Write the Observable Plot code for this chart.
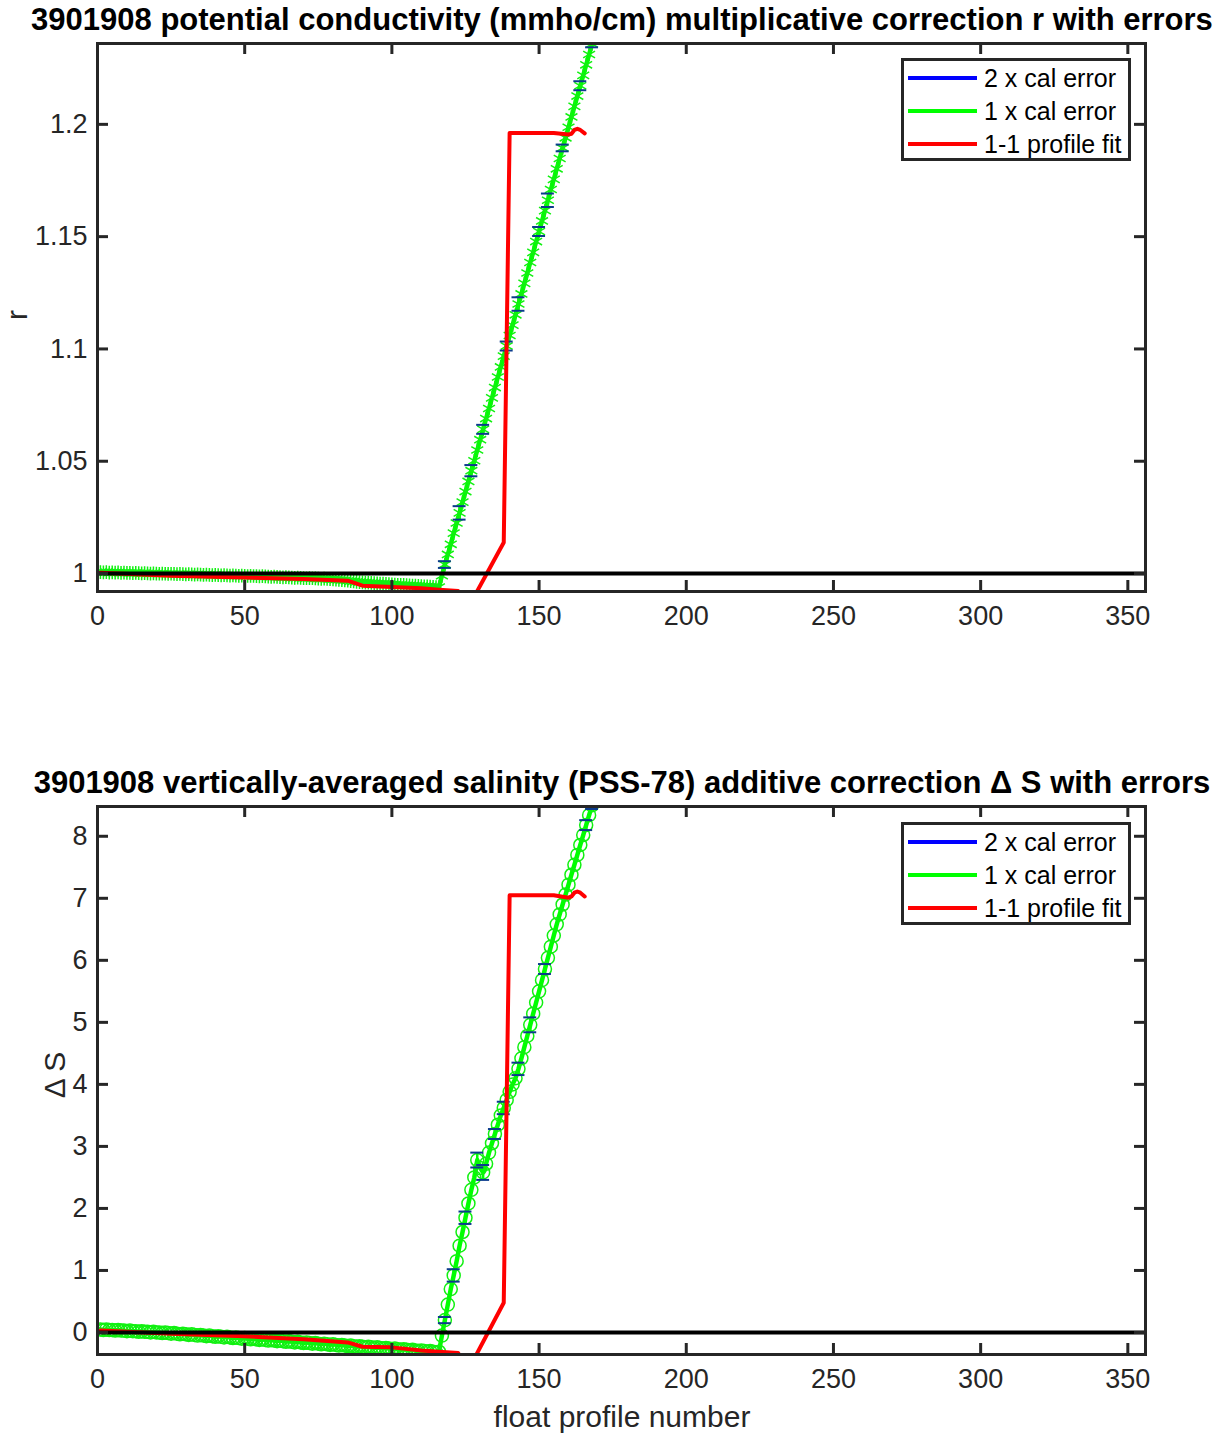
<!DOCTYPE html>
<html><head><meta charset="utf-8">
<script src="https://cdn.jsdelivr.net/npm/d3@7"></script>
<script src="https://cdn.jsdelivr.net/npm/@observablehq/plot@0.6"></script>
<style>
body{margin:0;background:#fff;font-family:"Liberation Sans",Arial,sans-serif;}
#fig{position:relative;width:1222px;height:1433px;overflow:hidden;background:#fff;}
.title{position:absolute;left:0;width:1244px;text-align:center;font-weight:bold;font-size:31px;line-height:34px;color:#000;white-space:nowrap;}
.panel{position:absolute;left:0;}
.ylab{position:absolute;font-size:30px;color:#262626;white-space:nowrap;transform:translate(-50%,-50%) rotate(-90deg);}
.xlab{position:absolute;left:0;width:1244px;text-align:center;font-size:30px;color:#262626;}
.legend{position:absolute;left:901px;width:224px;height:97px;border:3px solid #262626;background:#fff;}
.leg-line{position:absolute;left:4px;width:69px;height:4px;}
.leg-text{position:absolute;left:80px;font-size:25px;line-height:30px;color:#000;white-space:nowrap;}
</style></head><body><div id="fig"></div>
<script>
// ---------------- data ----------------
const xTicks = [0, 50, 100, 150, 200, 250, 300, 350];
const rTicks = [1, 1.05, 1.1, 1.15, 1.2];
const dsTicks = [0, 1, 2, 3, 4, 5, 6, 7, 8];
const legendLabels = ["2 x cal error", "1 x cal error", "1-1 profile fit"];
const legendColors = ["#0000ff", "#00ff00", "#ff0000"];

// float profile numbers 1..168
const profiles = d3.range(1, 169);

// potential conductivity multiplicative correction r (1 x cal error curve), profiles 1..168
const rValues = [
  1.0006, 1.0005, 1.0006, 1.0004, 1.0005, 1.0004, 1.0005, 1.0003, 1.0004, 1.0003,
  1.0003, 1.0002, 1.0003, 1.0002, 1.0001, 1.0002, 1.0001, 1.0000, 1.0001, 1.0000,
  0.9999, 1.0000, 0.9999, 0.9998, 0.9999, 0.9998, 0.9997, 0.9998, 0.9997, 0.9996,
  0.9997, 0.9996, 0.9995, 0.9996, 0.9995, 0.9994, 0.9995, 0.9994, 0.9993, 0.9994,
  0.9993, 0.9992, 0.9993, 0.9992, 0.9991, 0.9992, 0.9991, 0.9990, 0.9991, 0.9990,
  0.9989, 0.9990, 0.9989, 0.9988, 0.9987, 0.9988, 0.9987, 0.9986, 0.9985, 0.9986,
  0.9985, 0.9984, 0.9983, 0.9984, 0.9983, 0.9982, 0.9981, 0.9982, 0.9981, 0.9980,
  0.9979, 0.9980, 0.9979, 0.9978, 0.9977, 0.9976, 0.9977, 0.9976, 0.9975, 0.9974,
  0.9973, 0.9972, 0.9971, 0.9970, 0.9968, 0.9966, 0.9965, 0.9963, 0.9962, 0.9961,
  0.9960, 0.9959, 0.9958, 0.9957, 0.9956, 0.9955, 0.9955, 0.9954, 0.9953, 0.9952,
  0.9951, 0.9950, 0.9950, 0.9949, 0.9948, 0.9947, 0.9946, 0.9946, 0.9945, 0.9944,
  0.9943, 0.9943, 0.9942, 0.9941, 0.9940, 0.9940,
  0.9990, 1.0040, 1.0085, 1.0130, 1.0180, 1.0225, 1.0270, 1.0318, 1.0365, 1.0410,
  1.0458, 1.0502, 1.0550, 1.0596, 1.0642, 1.0690, 1.0735, 1.0782, 1.0828, 1.0875,
  1.0920, 1.0968, 1.1013, 1.1060, 1.1106, 1.1152, 1.1200, 1.1245, 1.1292, 1.1338,
  1.1385, 1.1430, 1.1478, 1.1523, 1.1570, 1.1616, 1.1662, 1.1710, 1.1755, 1.1802,
  1.1848, 1.1895, 1.1940, 1.1987, 1.2033, 1.2080, 1.2126, 1.2172, 1.2218, 1.2265,
  1.2311, 1.2358
];

// vertically-averaged salinity additive correction ΔS, profiles 1..168
const dsValues = [
  0.05, 0.04, 0.05, 0.04, 0.04, 0.03, 0.04, 0.03, 0.03, 0.02,
  0.03, 0.02, 0.02, 0.01, 0.02, 0.01, 0.01, 0.00, 0.01, 0.00,
  0.00, -0.01, 0.00, -0.01, -0.02, -0.01, -0.02, -0.03, -0.02, -0.03,
  -0.04, -0.03, -0.04, -0.05, -0.04, -0.05, -0.06, -0.05, -0.06, -0.07,
  -0.06, -0.07, -0.08, -0.07, -0.08, -0.09, -0.08, -0.09, -0.10, -0.09,
  -0.10, -0.11, -0.10, -0.11, -0.12, -0.11, -0.12, -0.13, -0.12, -0.13,
  -0.14, -0.13, -0.14, -0.15, -0.14, -0.15, -0.16, -0.15, -0.16, -0.17,
  -0.16, -0.17, -0.18, -0.17, -0.18, -0.19, -0.18, -0.19, -0.20, -0.19,
  -0.20, -0.21, -0.20, -0.21, -0.22, -0.21, -0.22, -0.23, -0.22, -0.23,
  -0.24, -0.23, -0.24, -0.25, -0.24, -0.25, -0.26, -0.25, -0.26, -0.27,
  -0.26, -0.27, -0.28, -0.27, -0.28, -0.29, -0.28, -0.29, -0.30, -0.29,
  -0.30, -0.31, -0.30, -0.31, -0.32, -0.31,
  -0.05, 0.20, 0.45, 0.70, 0.92, 1.15, 1.40, 1.62, 1.85, 2.08,
  2.30, 2.50, 2.78, 2.65, 2.58, 2.72, 2.90, 3.05, 3.20, 3.35,
  3.50, 3.62, 3.75, 3.88, 4.00, 4.10, 4.25, 4.42, 4.60, 4.78,
  4.96, 5.14, 5.32, 5.50, 5.68, 5.86, 6.04, 6.22, 6.40, 6.58,
  6.74, 6.90, 7.06, 7.22, 7.38, 7.54, 7.70, 7.86, 8.02, 8.18,
  8.34, 8.50
];

// 1-1 profile fit (red)
const fitProfiles = [1, 25, 50, 70, 85, 90, 100, 110, 116, 122.5, 126, 138, 140, 155, 160, 161, 162, 163, 164, 165.5];
const fitR  = [1.0003, 0.9990, 0.9982, 0.9976, 0.9968, 0.9946, 0.9940, 0.9934, 0.9928, 0.9922, 0.9850, 1.0138, 1.1962, 1.1962, 1.1955, 1.1958, 1.1975, 1.1980, 1.1975, 1.1960];
const fitDS = [0.03, -0.02, -0.06, -0.11, -0.16, -0.23, -0.24, -0.29, -0.31, -0.33, -0.60, 0.48, 7.05, 7.05, 7.01, 7.03, 7.09, 7.11, 7.09, 7.03];

// 2 x cal error (blue error bars), only where they show
const errRProfiles = [118, 123, 127, 131, 139, 143, 150, 153, 158, 164, 168];
const errR2 = [0.0015, 0.003, 0.0025, 0.002, 0.002, 0.003, 0.002, 0.003, 0.0015, 0.002, 0.0015];
const errDSProfiles = [118, 121, 125, 129, 131, 135, 138, 143, 147, 152, 166, 168];
const errDS2 = [0.05, 0.10, 0.10, 0.12, 0.12, 0.08, 0.10, 0.10, 0.12, 0.08, 0.08, 0.06];

// ---------------- drawing ----------------
const fig = document.getElementById("fig");
const FONT = '"Liberation Sans", Arial, sans-serif';
const AX = "#262626";

function panel({values, yDomain, yTicks, symbol, r, fitV, errP, errV, base, height, marginBottom}) {
  const pts = profiles.map((p, i) => ({x: p, y: values[i]}));
  const fit = fitProfiles.map((p, i) => ({x: p, y: fitV[i]}));
  const err = errP.map((p, i) => ({x: p, y: values[profiles.indexOf(p)], e: errV[i]}));
  const caps = err.flatMap(d => [{x: d.x, y: d.y + d.e}, {x: d.x, y: d.y - d.e}]);
  const plotH = height - 43 - marginBottom;
  const plotW = 1222 - 97 - 77;
  return Plot.plot({
    width: 1222, height,
    marginTop: 43, marginLeft: 97, marginRight: 77, marginBottom,
    x: {domain: [0, 356]},
    y: {domain: yDomain},
    style: {fontFamily: FONT, fontSize: "27px", color: AX, background: "transparent", overflow: "visible"},
    marks: [
      Plot.ruleX(err, {x: "x", y1: d => d.y - d.e, y2: d => d.y + d.e, stroke: "#00ff00", strokeWidth: 2.5, clip: true}),
      Plot.line(pts, {x: "x", y: "y", stroke: "#00ff00", strokeWidth: 4.5, clip: true}),
      Plot.dot(pts, {x: "x", y: "y", symbol, r, stroke: "#11f011", strokeWidth: 1.5, fill: "none", clip: true}),
      Plot.ruleY(caps, {y: "y", x1: d => d.x - 2.2, x2: d => d.x + 2.2, stroke: "#0b3b8c", strokeWidth: 2, clip: true}),
      Plot.line(fit, {x: "x", y: "y", stroke: "#ff0000", strokeWidth: 4, clip: true}),
      Plot.ruleY([base], {stroke: "#000", strokeWidth: 4}),
      Plot.ruleX(xTicks, {stroke: AX, strokeWidth: 3, insetTop: plotH - 11}),
      Plot.ruleX(xTicks, {stroke: AX, strokeWidth: 3, insetBottom: plotH - 11}),
      Plot.ruleY(yTicks, {stroke: AX, strokeWidth: 3, insetRight: plotW - 11}),
      Plot.ruleY(yTicks, {stroke: AX, strokeWidth: 3, insetLeft: plotW - 11}),
      Plot.frame({stroke: AX, strokeWidth: 3}),
      Plot.axisX({ticks: xTicks, tickSize: 0, tickPadding: 14, tickFormat: d => String(d), label: null, fontSize: 27, fill: AX}),
      Plot.axisY({ticks: yTicks, tickSize: 0, tickPadding: 10, tickFormat: d => String(d), label: null, fontSize: 27, fill: AX})
    ]
  });
}

function addDiv(cls, html, style) {
  const d = document.createElement("div");
  d.className = cls; d.innerHTML = html;
  Object.assign(d.style, style);
  fig.appendChild(d);
  return d;
}

function legend(top) {
  const box = addDiv("legend", "", {top: top + "px"});
  legendLabels.forEach((lab, i) => {
    const cy = 17 + i * 33;
    const ln = document.createElement("div");
    ln.className = "leg-line";
    ln.style.top = (cy - 2) + "px";
    ln.style.background = legendColors[i];
    box.appendChild(ln);
    const tx = document.createElement("div");
    tx.className = "leg-text";
    tx.style.top = (cy - 15) + "px";
    tx.textContent = lab;
    box.appendChild(tx);
  });
}

// top panel
addDiv("title", "3901908 potential conductivity (mmho/cm) multiplicative correction r with errors", {top: "3px"});
const p1 = panel({values: rValues, yDomain: [0.992, 1.236], yTicks: rTicks, symbol: "asterisk", r: 6.5,
  fitV: fitR, errP: errRProfiles, errV: errR2, base: 1, height: 660, marginBottom: 69});
const w1 = document.createElement("div"); w1.className = "panel"; w1.style.top = "0px"; w1.appendChild(p1); fig.appendChild(w1);
addDiv("ylab", "r", {left: "17px", top: "315px"});
legend(58);

// bottom panel
addDiv("title", "3901908 vertically-averaged salinity (PSS-78) additive correction &Delta; S with errors", {top: "766px"});
const p2 = panel({values: dsValues, yDomain: [-0.355, 8.48], yTicks: dsTicks, symbol: "circle", r: 6.5,
  fitV: fitDS, errP: errDSProfiles, errV: errDS2, base: 0, height: 670, marginBottom: 79});
const w2 = document.createElement("div"); w2.className = "panel"; w2.style.top = "763px"; w2.appendChild(p2); fig.appendChild(w2);
addDiv("ylab", "&Delta; S", {left: "55px", top: "1075px"});
legend(822);
addDiv("xlab", "float profile number", {top: "1400px"});
</script></body></html>
